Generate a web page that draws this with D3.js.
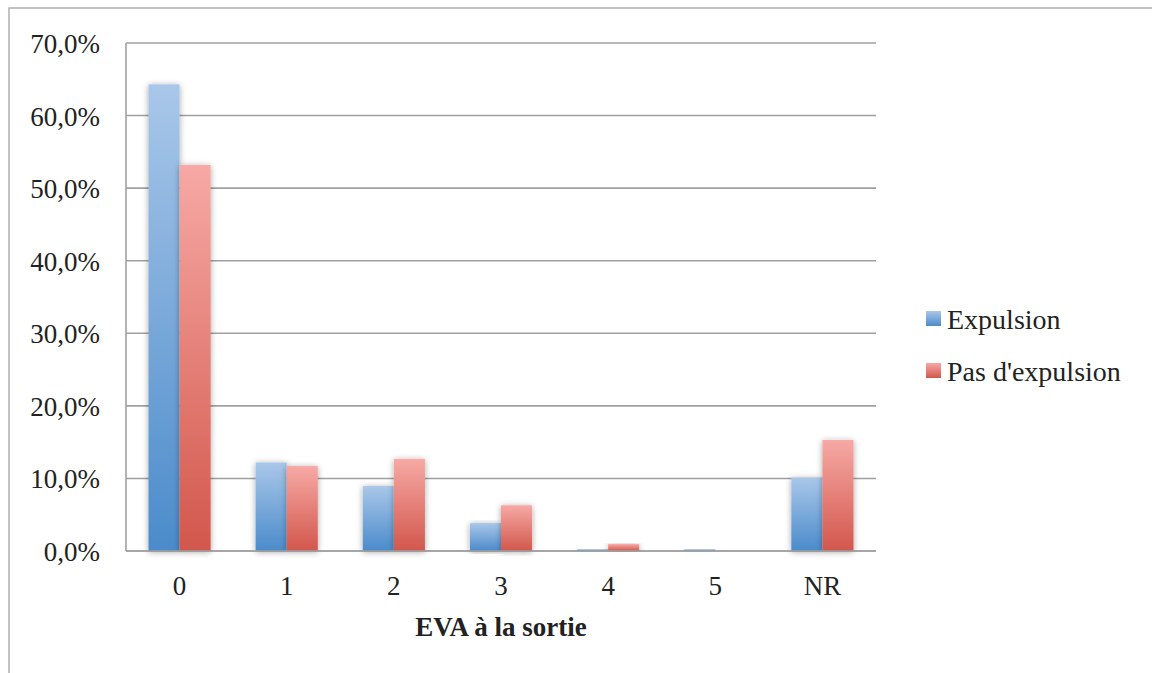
<!DOCTYPE html>
<html>
<head>
<meta charset="utf-8">
<script src="https://cdn.jsdelivr.net/npm/d3@7"></script>
<style>
  html, body { margin: 0; padding: 0; background: #fff; }
  svg { display: block; }
  text { font-family: "Liberation Serif", "DejaVu Serif", serif; fill: #222; }
</style>
</head>
<body>
<svg id="chart" width="1152" height="673"></svg>
<script>
const categories = ["0", "1", "2", "3", "4", "5", "NR"];
const seriesNames = ["Expulsion", "Pas d'expulsion"];
const expulsion = [64.3, 12.2, 8.95, 3.85, 0.25, 0.25, 10.1];
const pasExpulsion = [53.2, 11.7, 12.7, 6.3, 0.95, 0, 15.3];
const yTicks = [0, 10, 20, 30, 40, 50, 60, 70];
const xTitle = "EVA à la sortie";

const svg = d3.select("#chart");
const plot = { left: 126, right: 876, top: 43, bottom: 551 };

// outer frame
svg.append("rect").attr("x", 9).attr("y", 8).attr("width", 1200).attr("height", 720)
  .attr("fill", "none").attr("stroke", "#b0b0b0").attr("stroke-width", 1.5);

const defs = svg.append("defs");
function grad(id, top, bottom) {
  const g = defs.append("linearGradient").attr("id", id)
    .attr("x1", 0).attr("y1", 0).attr("x2", 0).attr("y2", 1);
  g.append("stop").attr("offset", "0%").attr("stop-color", top);
  g.append("stop").attr("offset", "100%").attr("stop-color", bottom);
}
grad("gBlue", "#a9c7e9", "#4b8bcb");
grad("gRed", "#f7a9a5", "#d2574c");
const f = defs.append("filter").attr("id", "shadow")
  .attr("x", "-40%").attr("y", "-10%").attr("width", "180%").attr("height", "120%");
f.append("feDropShadow").attr("dx", 0).attr("dy", 1).attr("stdDeviation", 3)
  .attr("flood-color", "#000").attr("flood-opacity", 0.35);

const y = d3.scaleLinear().domain([0, 70]).range([plot.bottom, plot.top]);
const x0 = d3.scaleBand().domain(categories).range([plot.left, plot.right])
  .paddingInner(0.42).paddingOuter(0.21);
const x1 = d3.scaleBand().domain(seriesNames).range([0, x0.bandwidth()]);

// gridlines
svg.append("g").selectAll("line").data(yTicks).join("line")
  .attr("x1", plot.left).attr("x2", plot.right)
  .attr("y1", d => y(d)).attr("y2", d => y(d))
  .attr("stroke", "#a0a0a0").attr("stroke-width", 1.6);

// left axis line
svg.append("line").attr("x1", plot.left).attr("x2", plot.left)
  .attr("y1", plot.top).attr("y2", plot.bottom)
  .attr("stroke", "#a0a0a0").attr("stroke-width", 1.6);

// y tick labels
svg.append("g").selectAll("text").data(yTicks).join("text")
  .attr("x", 100).attr("y", d => y(d) + 10)
  .attr("text-anchor", "end").attr("font-size", 27)
  .text(d => d.toFixed(1).replace(".", ",") + "%");

// bars
const colors = { "Expulsion": "url(#gBlue)", "Pas d'expulsion": "url(#gRed)" };
const rows = categories.map((c, i) => ({ cat: c, vals: [
  { s: seriesNames[0], v: expulsion[i] },
  { s: seriesNames[1], v: pasExpulsion[i] }
]}));
const groups = svg.append("g").selectAll("g").data(rows).join("g")
  .attr("transform", d => `translate(${x0(d.cat)},0)`);
groups.selectAll("rect").data(d => d.vals.filter(v => v.v > 0)).join("rect")
  .attr("x", d => x1(d.s)).attr("width", x1.bandwidth())
  .attr("y", d => y(d.v)).attr("height", d => y(0) - y(d.v))
  .attr("fill", d => colors[d.s])
  .attr("filter", "url(#shadow)");

// baseline on top
svg.append("line").attr("x1", plot.left).attr("x2", plot.right)
  .attr("y1", plot.bottom).attr("y2", plot.bottom)
  .attr("stroke", "#a0a0a0").attr("stroke-width", 1.6);

// x labels
svg.append("g").selectAll("text").data(categories).join("text")
  .attr("x", d => x0(d) + x0.bandwidth() / 2).attr("y", 595)
  .attr("text-anchor", "middle").attr("font-size", 27)
  .text(d => d);

svg.append("text").attr("x", (plot.left + plot.right) / 2).attr("y", 636)
  .attr("text-anchor", "middle").attr("font-size", 27).attr("font-weight", "bold")
  .text(xTitle);

// legend
const leg = svg.append("g").selectAll("g").data(seriesNames).join("g")
  .attr("transform", (d, i) => `translate(926, ${311 + i * 52})`);
leg.append("rect").attr("width", 15).attr("height", 15)
  .attr("fill", d => colors[d]);
leg.append("text").attr("x", 21).attr("y", 18).attr("font-size", 28)
  .text(d => d);
</script>
</body>
</html>
